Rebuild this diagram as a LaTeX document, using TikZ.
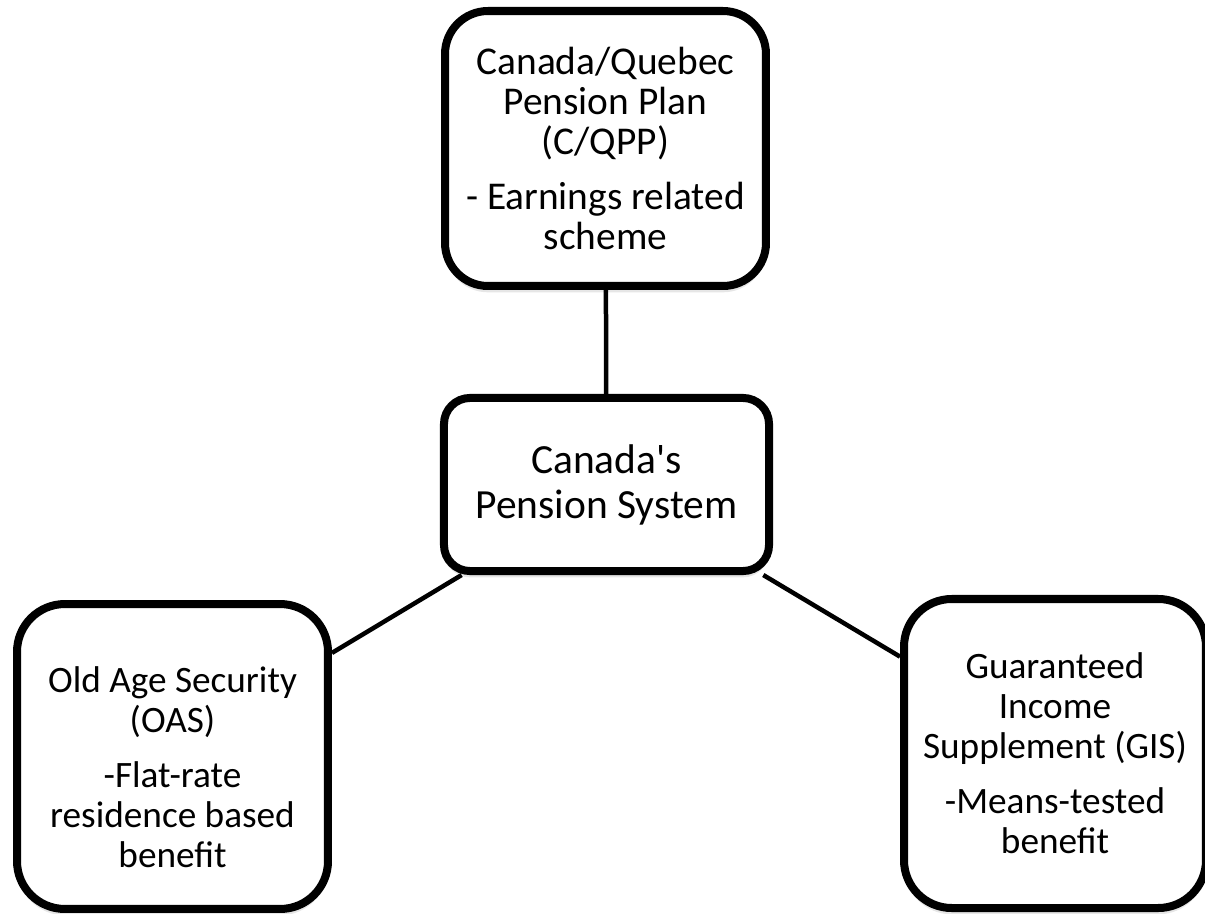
\documentclass[tikz,border=0pt]{standalone}
\usepackage{fontspec}
\setmainfont{Carlito}[Ligatures=TeXOff]
\usetikzlibrary{shadows}

\begin{document}
\begin{tikzpicture}[x=0.7113pt,y=-0.7113pt,
  pbox/.style={draw, rectangle, line width=5.7pt, fill=white, align=center, inner sep=0pt,
    drop shadow={opacity=.2, shadow xshift=0pt, shadow yshift=-4.5pt}},
  sidefont/.style={font=\fontsize{26.5}{28.5}\selectfont},
  link/.style={line width=3.2pt}]
\useasboundingbox (0,0) rectangle (1205,914);
\node[pbox, rounded corners=30.6pt, minimum width=228.3pt, minimum height=195.6pt, font=\fontsize{28}{28.5}\selectfont] (qpp) at (605.5,148.5){Canada/Quebec\\Pension Plan\\(C/QPP)\\[10.7pt]- Earnings related\\scheme};
\node[pbox, rounded corners=18.5pt, minimum width=231.2pt, minimum height=123.1pt, font=\fontsize{29.5}{32}\selectfont] (ctr) at (606.5,484.5){Canada's\\Pension System};
\node[pbox, rounded corners=34pt, minimum width=221.2pt, minimum height=216.9pt, sidefont] (oas) at (172.5,756.5){\rule{0pt}{34pt}Old Age Security\\(OAS)\\[10.7pt]-Flat-rate\\residence based\\benefit};
\node[pbox, rounded corners=34pt, minimum width=214.8pt, minimum height=219.8pt, sidefont] (gis) at (1055,753.5){Guaranteed\\Income\\Supplement (GIS)\\[10.7pt]-Means-tested\\benefit};
\draw[link] (qpp) -- (ctr);
\draw[link] (ctr.-148) -- (oas.33);
\draw[link] (ctr.-30) -- (gis.148);
\end{tikzpicture}
\end{document}
